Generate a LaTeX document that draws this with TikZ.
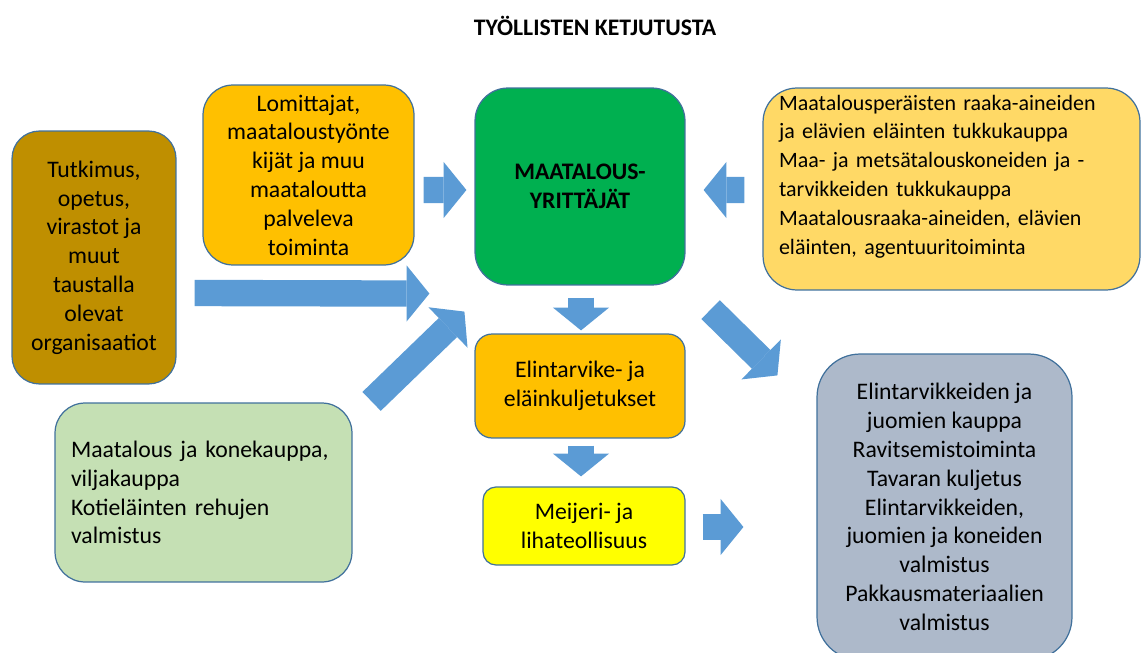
\documentclass[tikz,border=0pt]{standalone}
\usepackage{fontspec}
\setmainfont{Carlito}
\usepackage{tikz}
\usetikzlibrary{calc}
\usetikzlibrary{arrows.meta}

\definecolor{brownbox}{HTML}{BF8F00}
\definecolor{orangebox}{HTML}{FFC000}
\definecolor{greenbox}{HTML}{00B050}
\definecolor{sandbox}{HTML}{FFD966}
\definecolor{palegreen}{HTML}{C5E0B4}
\definecolor{yellowbox}{HTML}{FFFF00}
\definecolor{greybox}{HTML}{ADB9CA}
\definecolor{arrowblue}{HTML}{5B9BD5}
\definecolor{boxline}{HTML}{41719C}

\tikzset{
    box/.style={rectangle, draw=boxline, line width=0.7pt, align=center, font=\fontsize{13.5}{16.4}\selectfont},
    blockarrow/.style={draw=arrowblue, line width=15pt, -{Triangle[width=32pt,length=13pt,line width=0pt]}}
}

\begin{document}
\begin{tikzpicture}[x=0.02cm, y=-0.02cm]
        \useasboundingbox (0,0) rectangle (1141,652);
        \node[font=\fontsize{13.5}{16}\selectfont\bfseries] at (595,26) (otsikko) {TYÖLLISTEN KETJUTUSTA};
        \node[box, fill=brownbox, rounded corners=0.55cm, minimum width=3.28cm, minimum height=5.06cm] at (94,257.5) (tutkimus) {Tutkimus,\\ opetus,\\ virastot ja\\ muut\\ taustalla\\ olevat\\ organisaatiot};
        \node[box, fill=orangebox, rounded corners=0.6cm, minimum width=4.22cm, minimum height=3.6cm] at (308.5,175) (lomitus) {Lomittajat,\\ maataloustyönte\\ kijät ja muu\\ maataloutta\\ palveleva\\ toiminta};
        \node[box, fill=greenbox, rounded corners=0.66cm, minimum width=4.2cm, minimum height=3.94cm, font=\fontsize{13.5}{16.4}\selectfont\bfseries] at (580,186.5) (yrittajat) {MAATALOUS-\\ YRITTÄJÄT};
        \node[box, fill=sandbox, rounded corners=0.68cm, minimum width=7.54cm, minimum height=4.04cm, text width=6.9cm, align=left, font=\fontsize{12.5}{16.4}\selectfont] at (951.5,189) (tukku) {Maatalousperäisten raaka-aineiden\\ ja elävien eläinten tukkukauppa\\ Maa- ja metsätalouskoneiden ja -\\ tarvikkeiden tukkukauppa\\ Maatalousraaka-aineiden, elävien\\ eläinten, agentuuritoiminta\\ ~};
        \node[box, fill=palegreen, rounded corners=0.6cm, minimum width=5.94cm, minimum height=3.58cm, text width=5.3cm, align=left] at (203.5,492.5) (konekauppa) {Maatalous ja konekauppa,\\ viljakauppa\\ Kotieläinten rehujen\\ valmistus};
        \node[box, fill=orangebox, rounded corners=0.34cm, minimum width=4.2cm, minimum height=2.08cm] at (580,386) (kuljetus) {Elintarvike- ja\\ eläinkuljetukset};
        \node[box, fill=yellowbox, rounded corners=0.26cm, minimum width=4.04cm, minimum height=1.56cm] at (584,526) (meijeri) {Meijeri- ja\\ lihateollisuus};
        \node[box, fill=greybox, rounded corners=0.86cm, minimum width=5.1cm, minimum height=6.12cm] at (944.5,507) (kauppa) {Elintarvikkeiden ja\\ juomien kauppa\\ Ravitsemistoiminta\\ Tavaran kuljetus\\ Elintarvikkeiden,\\ juomien ja koneiden\\ valmistus\\ Pakkausmateriaalien\\ valmistus};
        \draw[blockarrow] ($(lomitus.east)+(9,15)$) -- ($(yrittajat.west)+(-8,3.5)$);
        \draw[blockarrow] ($(tutkimus.east)+(18,35.5)$) -- ($(yrittajat.south west)+(-45,8)$);
        \draw[blockarrow] ($(konekauppa.north east)+(19,-1)$) -- ($(yrittajat.south west)+(-10,26)$);
        \draw[blockarrow] ($(tukku.west)+(-18,1)$) -- ($(yrittajat.east)+(18,3.5)$);
        \draw[blockarrow] ($(yrittajat.south)+(1,12)$) -- ($(kuljetus.north)+(1,-3)$);
        \draw[blockarrow] ($(kuljetus.south)+(1,7)$) -- ($(meijeri.north)+(-3,-10)$);
        \draw[blockarrow] ($(meijeri.east)+(17,1)$) -- ($(kauppa.west)+(-73,20)$);
        \draw[blockarrow] ($(yrittajat.south east)+(25,24)$) -- ($(kauppa.north west)+(-39,22)$);
    \end{tikzpicture}
\end{document}
